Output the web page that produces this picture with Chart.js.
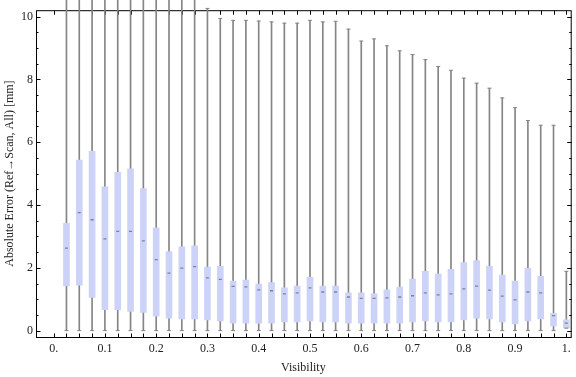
<!DOCTYPE html>
<html lang="en">
<head>
<meta charset="UTF-8">
<title>Absolute error vs visibility</title>
<script src="https://cdn.jsdelivr.net/npm/chart.js"></script>
<style>
    html, body { margin: 0; padding: 0; background: #fff; }
    #errChart { display: block; }
</style>
</head>
<body>
<canvas id="errChart" width="576" height="377"></canvas>
<script>
    // visibility bins
    const visibility = [0.025, 0.05, 0.075, 0.1, 0.125, 0.15, 0.175, 0.2, 0.225, 0.25,
        0.275, 0.3, 0.325, 0.35, 0.375, 0.4, 0.425, 0.45, 0.475, 0.5,
        0.525, 0.55, 0.575, 0.6, 0.625, 0.65, 0.675, 0.7, 0.725, 0.75,
        0.775, 0.8, 0.825, 0.85, 0.875, 0.9, 0.925, 0.95, 0.975, 1.0];

    // box statistics [mm]
    const q1 = [1.42, 1.45, 1.06, 0.67, 0.67, 0.61, 0.58, 0.46, 0.40, 0.37,
        0.37, 0.34, 0.31, 0.24, 0.24, 0.24, 0.24, 0.28, 0.28, 0.31,
        0.28, 0.28, 0.24, 0.24, 0.24, 0.24, 0.24, 0.28, 0.31, 0.28,
        0.28, 0.34, 0.40, 0.37, 0.28, 0.21, 0.31, 0.37, 0.15, 0.09];
    const median = [2.63, 3.76, 3.53, 2.92, 3.16, 3.16, 2.86, 2.26, 1.83, 1.99,
        2.04, 1.68, 1.63, 1.41, 1.39, 1.30, 1.27, 1.17, 1.20, 1.36,
        1.23, 1.23, 1.07, 1.03, 1.03, 1.04, 1.07, 1.11, 1.20, 1.14,
        1.17, 1.33, 1.42, 1.29, 1.10, 0.98, 1.23, 1.20, 0.48, 0.24];
    const q3 = [3.42, 5.43, 5.71, 4.58, 5.04, 5.15, 4.52, 3.27, 2.52, 2.67,
        2.70, 2.02, 2.05, 1.58, 1.61, 1.48, 1.53, 1.36, 1.42, 1.70,
        1.42, 1.42, 1.20, 1.20, 1.17, 1.30, 1.39, 1.64, 1.89, 1.80,
        1.95, 2.17, 2.23, 2.05, 1.77, 1.58, 1.98, 1.73, 0.55, 0.34];
    const whiskerLo = [0, 0, 0, 0, 0, 0, 0, 0, 0, 0,
        0, 0, 0, 0, 0, 0, 0, 0, 0, 0,
        0, 0, 0, 0, 0, 0, 0, 0, 0, 0,
        0, 0, 0, 0, 0, 0, 0, 0, 0, 0.08];
    const whiskerHi = [10.6, 10.6, 10.6, 10.6, 10.6, 10.6, 10.6, 10.6, 10.6, 10.6,
        10.6, 10.26, 9.94, 9.88, 9.88, 9.86, 9.83, 9.79, 9.79, 9.88,
        9.83, 9.85, 9.60, 9.22, 9.29, 9.07, 8.91, 8.79, 8.63, 8.41,
        8.29, 8.04, 7.88, 7.72, 7.41, 7.10, 6.69, 6.54, 6.54, 1.89];

    // axes
    const xTickValues = [0, 0.1, 0.2, 0.3, 0.4, 0.5, 0.6, 0.7, 0.8, 0.9, 1];
    const xTickLabels = ['0.', '0.1', '0.2', '0.3', '0.4', '0.5', '0.6', '0.7', '0.8', '0.9', '1.'];
    const yTickValues = [0, 2, 4, 6, 8, 10];

    const serif = '"Liberation Serif", "DejaVu Serif", serif';
    const whiskerColor = '#858585';

    // Mathematica-style frame with ticks on all four sides
    const framePlugin = {
        id: 'frame',
        beforeDatasetsDraw(chart) {
            const { ctx, chartArea: a, scales: { x, y } } = chart;
            ctx.save();
            ctx.strokeStyle = '#000';
            ctx.lineWidth = 1;
            ctx.strokeRect(a.left + 0.5, a.top + 0.5, a.right - a.left, a.bottom - a.top);
            ctx.beginPath();
            [0].concat(visibility).forEach(v => {
                const px = Math.round(x.getPixelForValue(v)) + 0.5;
                ctx.moveTo(px, a.bottom + 0.5); ctx.lineTo(px, a.bottom - 3.5);
                ctx.moveTo(px, a.top + 0.5); ctx.lineTo(px, a.top + 4.5);
            });
            for (let v = 0; v <= 10; v += 0.5) {
                const len = v % 2 === 0 ? 4.5 : 2.5;
                const py = Math.round(y.getPixelForValue(v)) + 0.5;
                ctx.moveTo(a.left, py); ctx.lineTo(a.left + len, py);
                ctx.moveTo(a.right + 1, py); ctx.lineTo(a.right + 1 - len, py);
            }
            ctx.stroke();
            ctx.restore();
        }
    };

    const caps = visibility.map((v, i) => ({ x: v, y: whiskerHi[i] }))
        .concat(visibility.map((v, i) => ({ x: v, y: whiskerLo[i] })));

    new Chart(document.getElementById('errChart'), {
        type: 'bar',
        data: {
            datasets: [
                {
                    label: 'whiskers',
                    data: visibility.map((v, i) => ({ x: v, y: [whiskerLo[i], whiskerHi[i]] })),
                    backgroundColor: whiskerColor,
                    barThickness: 1,
                    grouped: false,
                    clip: false,
                    order: 4
                },
                {
                    label: 'boxes',
                    data: visibility.map((v, i) => ({ x: v, y: [q1[i], q3[i]] })),
                    backgroundColor: 'rgb(205, 211, 246)',
                    barThickness: 6,
                    grouped: false,
                    order: 3
                },
                {
                    type: 'scatter',
                    label: 'caps',
                    data: caps,
                    pointStyle: 'line',
                    radius: 2,
                    borderColor: whiskerColor,
                    borderWidth: 1,
                    clip: false,
                    order: 2
                },
                {
                    type: 'scatter',
                    label: 'median',
                    data: visibility.map((v, i) => ({ x: v, y: median[i] })),
                    pointStyle: 'line',
                    radius: 1.5,
                    borderColor: '#7f7f96',
                    borderWidth: 1.3,
                    order: 1
                }
            ]
        },
        options: {
            responsive: false,
            animation: false,
            layout: { padding: { top: 4, right: 1, left: 0, bottom: 0 } },
            plugins: {
                legend: { display: false },
                tooltip: { enabled: false }
            },
            scales: {
                x: {
                    type: 'linear',
                    min: -0.0344,
                    max: 1.0085,
                    offset: false,
                    grid: { display: false, drawTicks: false },
                    border: { display: false },
                    afterBuildTicks: s => { s.ticks = xTickValues.map(v => ({ value: v })); },
                    afterFit: s => { s.height = 40; },
                    ticks: {
                        autoSkip: false,
                        maxRotation: 0,
                        padding: 5,
                        color: '#222',
                        font: { family: serif, size: 12 },
                        callback: (v, i) => xTickLabels[i]
                    },
                    title: {
                        display: true,
                        text: 'Visibility',
                        color: '#222',
                        font: { family: serif, size: 12 },
                        padding: { top: 0, bottom: 2 }
                    }
                },
                y: {
                    min: -0.203,
                    max: 10.203,
                    beginAtZero: false,
                    grid: { display: false, drawTicks: false },
                    border: { display: false },
                    afterBuildTicks: s => { s.ticks = yTickValues.map(v => ({ value: v })); },
                    afterFit: s => { s.width = 36; },
                    ticks: {
                        padding: 3,
                        color: '#222',
                        font: { family: serif, size: 12 },
                        callback: v => String(v)
                    },
                    title: {
                        display: true,
                        text: 'Absolute Error (Ref\u2192Scan, All) [mm]',
                        color: '#222',
                        font: { family: serif, size: 12 },
                        padding: { top: 3, bottom: 0 }
                    }
                }
            }
        },
        plugins: [framePlugin]
    });
</script>
</body>
</html>
